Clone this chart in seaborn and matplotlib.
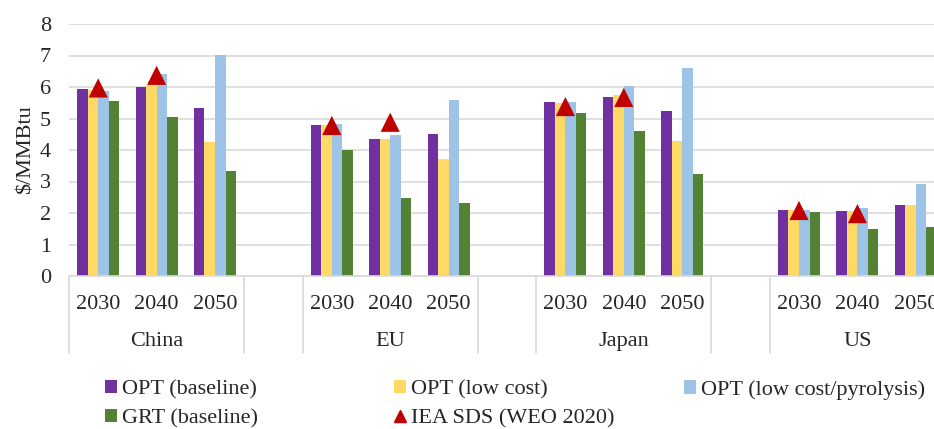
import numpy as np
import pandas as pd
import matplotlib
matplotlib.use("Agg")
import matplotlib.pyplot as plt
from matplotlib.patches import Patch
from matplotlib.lines import Line2D
import seaborn as sns

# ==========================================
# Data
# ==========================================
regions = ["China", "EU", "Japan", "US"]
years = ["2030", "2040", "2050"]

opt_baseline = [5.94, 5.99, 5.32, 4.78, 4.34, 4.50, 5.51, 5.67, 5.25, 2.10, 2.05, 2.26]
opt_low_cost = [5.90, 6.06, 4.24, 4.80, 4.34, 3.73, 5.50, 5.74, 4.30, 2.10, 2.05, 2.26]
opt_pyrolysis = [5.87, 6.41, 7.01, 4.81, 4.47, 5.60, 5.52, 6.02, 6.61, 2.10, 2.16, 2.93]
grt_baseline = [5.55, 5.06, 3.32, 3.99, 2.49, 2.32, 5.18, 4.59, 3.24, 2.04, 1.48, 1.54]
iea_sds = [5.97, 6.37, None, 4.78, 4.88, None, 5.38, 5.67, None, 2.08, 1.98, None]

series_names = ["OPT (baseline)", "OPT (low cost)", "OPT (low cost/pyrolysis)", "GRT (baseline)"]
series_values = [opt_baseline, opt_low_cost, opt_pyrolysis, grt_baseline]
colors = ["#7030A0", "#FFD966", "#9DC3E6", "#548235"]
tri_color = "#C00000"
iea_name = "IEA SDS (WEO 2020)"

# ==========================================
# Build slots (with an empty slot between regions)
# ==========================================
cat_keys = [f"{r} {y}" for r in regions for y in years]
slot_order = []
for i, r in enumerate(regions):
    slot_order += [f"{r} {y}" for y in years]
    if i < len(regions) - 1:
        slot_order.append(" " * (i + 1))

rows = []
for name, vals in zip(series_names, series_values):
    for key, v in zip(cat_keys, vals):
        rows.append({"slot": key, "series": name, "value": v})
df = pd.DataFrame(rows)

# ==========================================
# Plot
# ==========================================
sns.set_style("white")
plt.rcParams["font.family"] = ["Liberation Serif", "DejaVu Serif"]
FS = 16

W, H = 934, 429
fig = plt.figure(figsize=(W / 100, H / 100), dpi=100)
left_px, right_px, top_px, bot_px = 69, 945, 24, 276
ax = fig.add_axes([left_px / W, 1 - bot_px / H, (right_px - left_px) / W, (bot_px - top_px) / H])

sns.barplot(data=df, x="slot", y="value", hue="series", order=slot_order,
            hue_order=series_names, palette=colors, width=0.72, gap=0,
            saturation=1, legend=False, ax=ax, linewidth=0)

# IEA SDS triangles
tri_x = [slot_order.index(k) for k, v in zip(cat_keys, iea_sds) if v is not None]
tri_y = [v for v in iea_sds if v is not None]
sns.scatterplot(x=tri_x, y=tri_y, marker="^", s=190, color=tri_color,
                edgecolor="none", ax=ax, zorder=5, legend=False)

ax.set_xlim(-0.5, len(slot_order) - 0.5)
ax.set_ylim(0, 8)
ax.set_yticks(range(0, 9))
ax.yaxis.grid(True, color="#D9D9D9", linewidth=1.2)
ax.set_axisbelow(True)
for s in ["left", "right", "top"]:
    ax.spines[s].set_visible(False)
ax.spines["bottom"].set_color("#D9D9D9")
ax.spines["bottom"].set_linewidth(1.2)
ax.tick_params(axis="both", length=0, labelsize=FS)
ax.tick_params(axis="y", pad=13)
ax.tick_params(axis="x", pad=13.5)

xt_labels = [s.split(" ")[1] if s.strip() else "" for s in slot_order]
ax.set_xticks(range(len(slot_order)))
ax.set_xticklabels(xt_labels)
ax.set_xlabel("")
ax.set_ylabel("$/MMBtu", fontsize=FS, labelpad=3)

# region labels and separators
trans = ax.get_xaxis_transform()
for r in regions:
    pos = [slot_order.index(f"{r} {y}") for y in years]
    ax.text(np.mean(pos), -0.258, r, transform=trans, ha="center", va="center", fontsize=FS)
seps = [-0.5]
for i, s in enumerate(slot_order):
    if not s.strip():
        seps += [i - 0.5, i + 0.5]
for sx in seps:
    ax.plot([sx, sx], [0, -0.305], transform=trans, color="#D9D9D9", lw=1.2, clip_on=False)

# legend, three fixed-width columns
handles = [Patch(facecolor=c, edgecolor="none") for c in colors]
tri_handle = Line2D([], [], marker="^", color=tri_color, linestyle="none", markersize=9)
legend_cols = [
    ([handles[0], handles[3]], [series_names[0], series_names[3]], 105),
    ([handles[1], tri_handle], [series_names[1], iea_name], 394),
    ([handles[2]], [series_names[2]], 684),
]
for hs, ls, xpx in legend_cols:
    leg = fig.legend(hs, ls, loc="upper left", bbox_to_anchor=(xpx / W, 1 - 380 / H),
                     frameon=False, borderpad=0, borderaxespad=0, handlelength=0.55,
                     handleheight=0.55, handletextpad=0.2, labelspacing=0.42, fontsize=FS)

fig.savefig("out.png", dpi=100)
